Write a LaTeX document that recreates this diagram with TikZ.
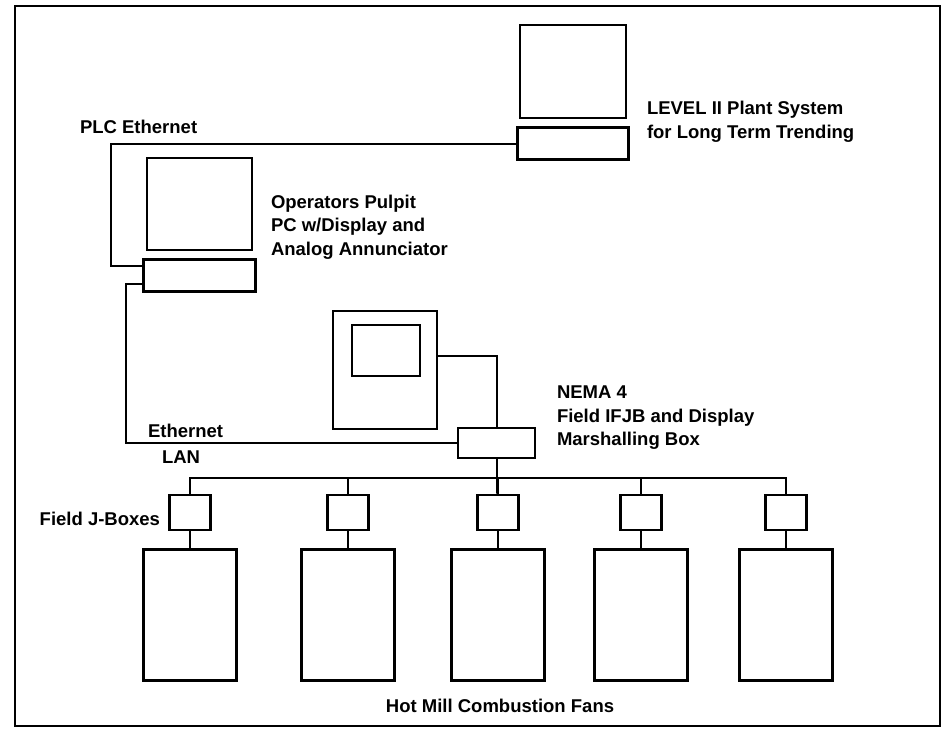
\documentclass[tikz,border=0pt]{standalone}
\usepackage{fontspec}
\setmainfont{Liberation Sans}
\usetikzlibrary{positioning}
\begin{document}
\begin{tikzpicture}[x=1pt, y=-1pt, line width=2pt,
    box/.style={draw, rectangle, inner sep=0pt, line width=2.6pt},
    jbox/.style={box, minimum width=41pt, minimum height=35pt},
    fan/.style={box, minimum width=93pt, minimum height=131pt},
    lbl/.style={font=\bfseries\fontsize{18.5}{23.5}\selectfont, align=left, inner sep=0pt}]
    \useasboundingbox (0,0) rectangle (942,728);
    \draw[line width=2.6pt] (15,6) rectangle (940,726);
    % computers
    \node[box, minimum width=106pt, minimum height=93pt] (lv) at (573,71.5) {};
    \node[box, minimum width=111pt, minimum height=32pt] (lvb) [below=7pt of lv] {};
    \node[box, minimum width=105pt, minimum height=92pt] (op) at (199.5,204) {};
    \node[box, minimum width=112pt, minimum height=32pt] (opb) [below=7pt of op] {};
    \node[box, minimum width=104pt, minimum height=118pt] (disp) at (385,370) {};
    \node[box, minimum width=68pt, minimum height=51pt] (scr) at (386,350.5) {};
    \node[box, minimum width=77pt, minimum height=30pt] (mb) at (496.5,443) {};
    % field j-boxes and fans
    \node[jbox] (j1) at (190,512.5) {};
    \node[jbox] (j2) at (348,512.5) {};
    \node[jbox] (j3) at (498,512.5) {};
    \node[jbox] (j4) at (641,512.5) {};
    \node[jbox] (j5) at (786,512.5) {};
    \node[fan] (f1) [below=17pt of j1] {};
    \node[fan] (f2) [below=17pt of j2] {};
    \node[fan] (f3) [below=17pt of j3] {};
    \node[fan] (f4) [below=17pt of j4] {};
    \node[fan] (f5) [below=17pt of j5] {};
    % labels
    \node[lbl, anchor=west] (plc) at (79,127) {PLC Ethernet};
    \node[lbl, anchor=west] (lvt) at (646,122) {LEVEL II Plant System\\for Long Term Trending};
    \node[lbl, anchor=west] (opt) at (270,227) {Operators Pulpit\\PC w/Display and\\Analog Annunciator};
    \node[lbl, anchor=west] (eth) at (147,431) {Ethernet};
    \node[lbl, anchor=west] (lan) at (161,457) {LAN};
    \node[lbl, anchor=west] (mbt) at (556,418) {NEMA 4\\Field IFJB and Display\\Marshalling Box};
    \node[lbl, anchor=east] (jbt) at (161,519) {Field J-Boxes};
    \node[lbl] (fans) at (500,706) {Hot Mill Combustion Fans};
    % cables
    \draw (lvb.west) -| ([xshift=-31pt,yshift=10pt]opb.west) -- ([yshift=10pt]opb.west);
    \draw ([yshift=-8pt]opb.west) -- ++(-16,0) |- (mb.west);
    \draw ([yshift=14pt]disp.east) -| (mb.north);
    \draw (j1.north) -- ++(0,-16) -| (j5.north);
    \draw (j2.north) -- ++(0,-16);
    \draw (j3.north) -- ++(0,-16);
    \draw (j4.north) -- ++(0,-16);
    \draw (mb.south) -- (mb.south |- j1.north) -- ++(0,-16);
    \draw (j1) -- (f1);
    \draw (j2) -- (f2);
    \draw (j3) -- (f3);
    \draw (j4) -- (f4);
    \draw (j5) -- (f5);
\end{tikzpicture}
\end{document}
